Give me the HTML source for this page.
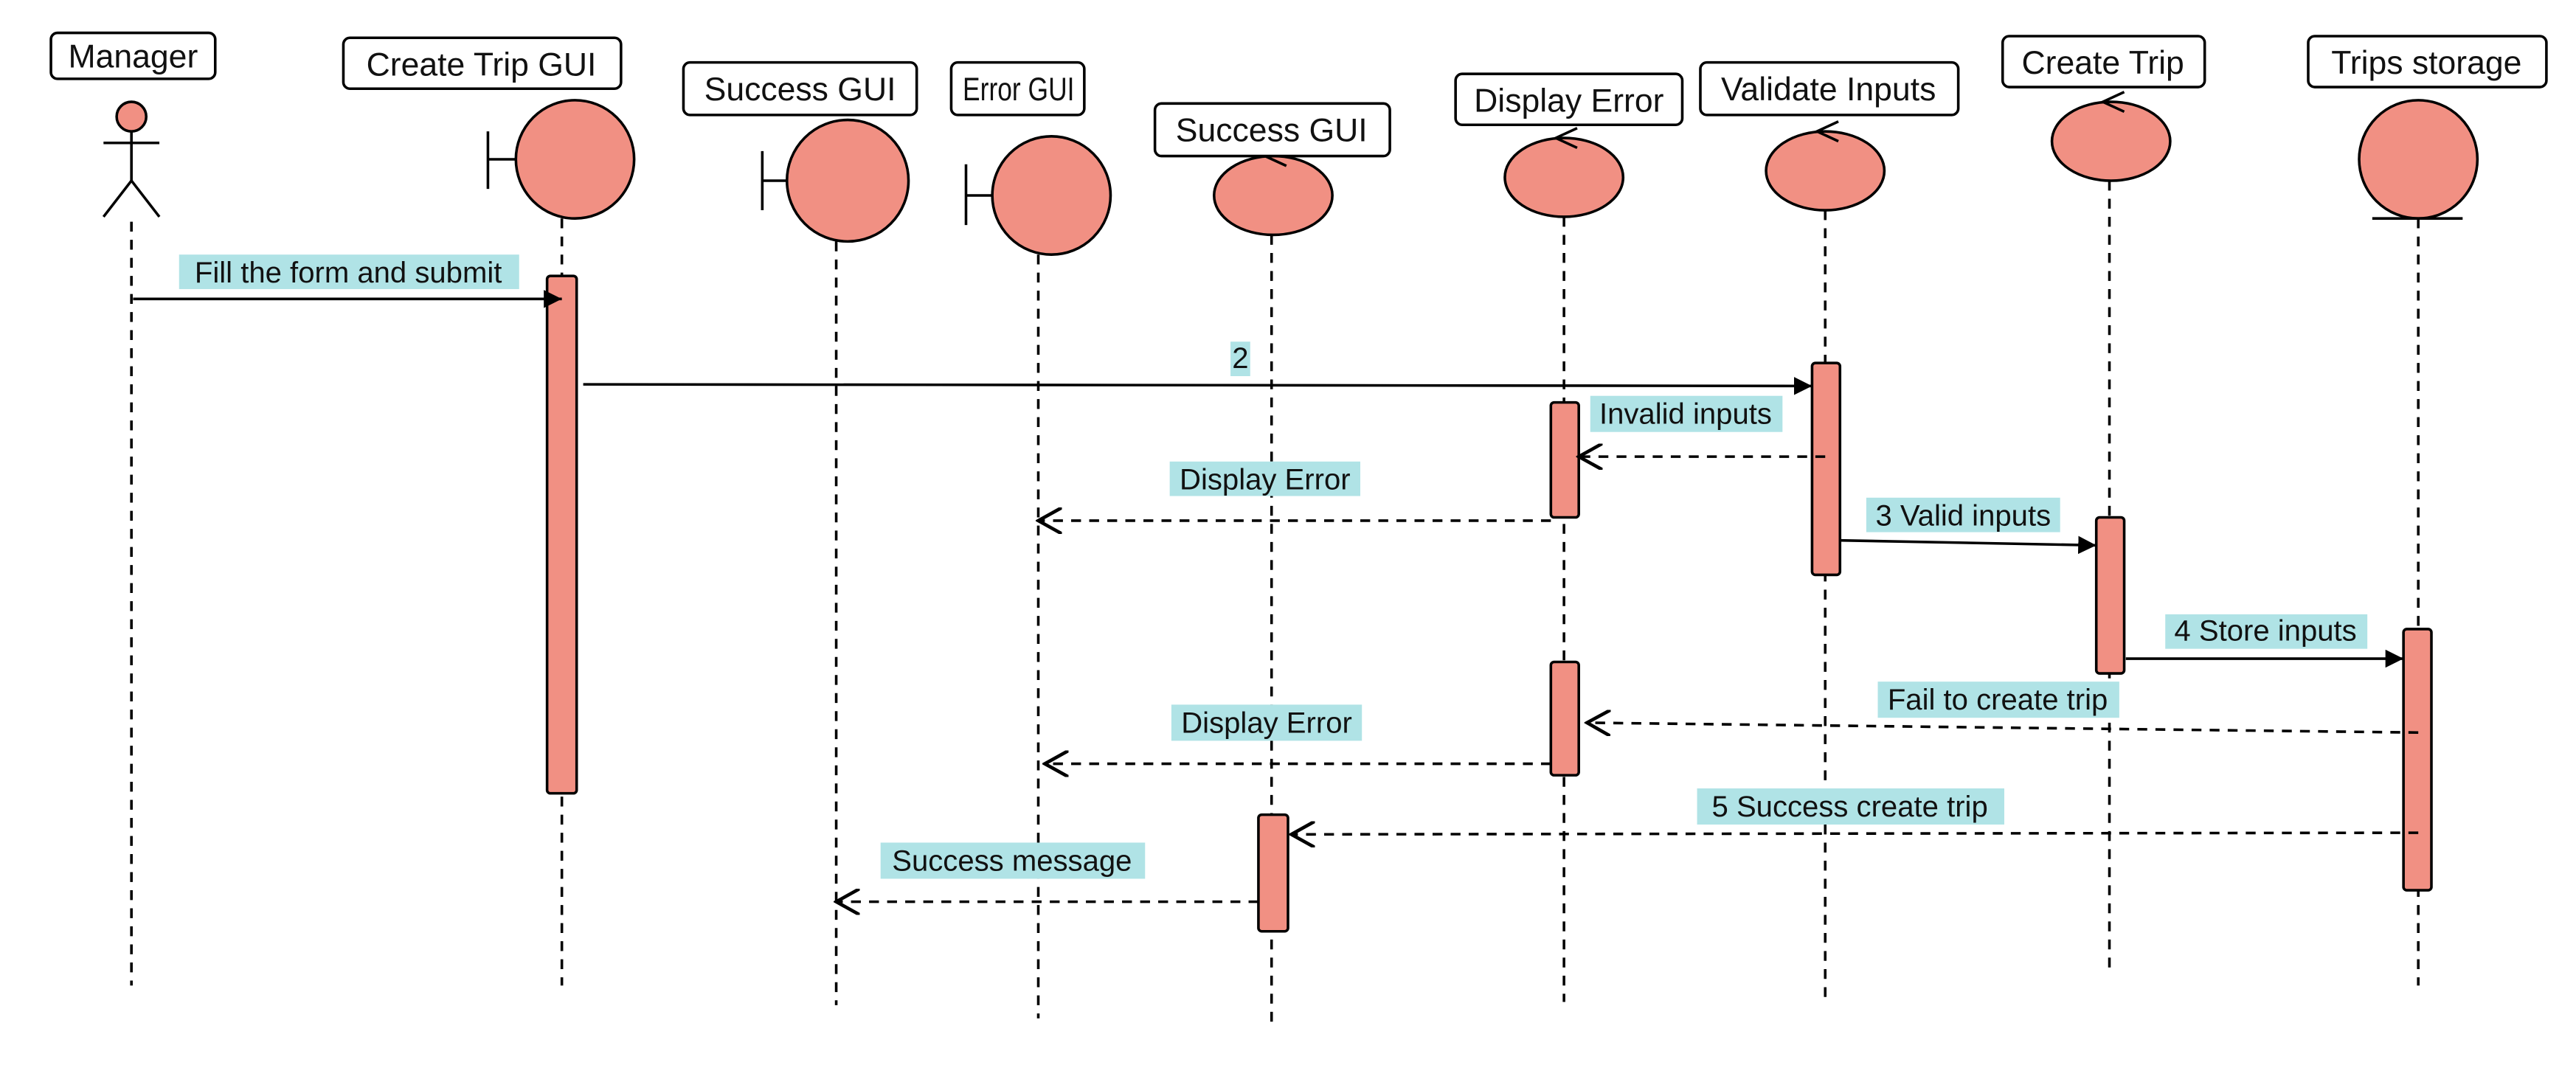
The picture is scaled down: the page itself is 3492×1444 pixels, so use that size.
<!DOCTYPE html>
<html><head><meta charset="utf-8"><style>
html,body{margin:0;padding:0;background:#fff;width:3492px;height:1444px;overflow:hidden}
svg{display:block}
text{font-family:"Liberation Sans",sans-serif;fill:#111}
</style></head><body>
<svg width="3492" height="1444" viewBox="0 0 1568 648.4" xmlns="http://www.w3.org/2000/svg">
<defs>
<marker id="f" viewBox="0 0 10 10" refX="10" refY="5" markerWidth="11" markerHeight="11" markerUnits="userSpaceOnUse" orient="auto"><path d="M0,0 L10,5 L0,10 z" fill="#000"/></marker>
<marker id="o" viewBox="0 0 10 10" refX="9" refY="5" markerWidth="16" markerHeight="16" markerUnits="userSpaceOnUse" orient="auto"><path d="M0,0 L9,5 L0,10" fill="none" stroke="#000" stroke-width="1.3"/></marker>
</defs>
<g stroke="#000" stroke-width="1.6" fill="none">
<g stroke-dasharray="6,5">
<line x1="80" y1="135" x2="80" y2="600"/>
<line x1="342" y1="133" x2="342" y2="600"/>
<line x1="509" y1="147" x2="509" y2="612"/>
<line x1="632" y1="155" x2="632" y2="620"/>
<line x1="774" y1="143" x2="774" y2="622"/>
<line x1="952" y1="132" x2="952" y2="610"/>
<line x1="1111" y1="128" x2="1111" y2="607"/>
<line x1="1284" y1="110" x2="1284" y2="590"/>
<line x1="1472" y1="133" x2="1472" y2="600"/>
</g>
<circle cx="80" cy="71" r="9" fill="#f19083"/>
<line x1="80" y1="80" x2="80" y2="110"/><line x1="63" y1="87" x2="97" y2="87"/>
<line x1="80" y1="110" x2="63" y2="132"/><line x1="80" y1="110" x2="97" y2="132"/>
<circle cx="350" cy="97" r="36" fill="#f19083"/><line x1="297" y1="80" x2="297" y2="115"/><line x1="297" y1="97" x2="314" y2="97"/>
<circle cx="516" cy="110" r="37" fill="#f19083"/><line x1="464" y1="92" x2="464" y2="128"/><line x1="464" y1="110" x2="479" y2="110"/>
<circle cx="640" cy="119" r="36" fill="#f19083"/><line x1="588" y1="100" x2="588" y2="137"/><line x1="588" y1="119" x2="604" y2="119"/>
<ellipse cx="775" cy="119" rx="36" ry="24" fill="#f19083"/><path d="M783,101 L770,95 L783,89"/>
<ellipse cx="952" cy="108" rx="36" ry="24" fill="#f19083"/><path d="M960,90 L947,84 L960,78"/>
<ellipse cx="1111" cy="104" rx="36" ry="24" fill="#f19083"/><path d="M1119,86 L1106,80 L1119,74"/>
<ellipse cx="1285" cy="86" rx="36" ry="24" fill="#f19083"/><path d="M1293,68 L1280,62 L1293,56"/>
<circle cx="1472" cy="97" r="36" fill="#f19083"/><line x1="1444" y1="133" x2="1499" y2="133"/>
<g fill="#fff">
<rect x="31" y="20" width="100" height="28" rx="4"/>
<rect x="209" y="23" width="169" height="31" rx="4"/>
<rect x="416" y="38" width="142" height="32" rx="4"/>
<rect x="579" y="38" width="81" height="32" rx="4"/>
<rect x="703" y="63" width="143" height="32" rx="4"/>
<rect x="886" y="45" width="138" height="31" rx="4"/>
<rect x="1035" y="38" width="157" height="32" rx="4"/>
<rect x="1219" y="22" width="123" height="31" rx="4"/>
<rect x="1405" y="22" width="145" height="31" rx="4"/>
</g>
<g fill="#f19083">
<rect x="333" y="168" width="18" height="315" rx="2"/>
<rect x="766" y="496" width="18" height="71" rx="2"/>
<rect x="944" y="245" width="17" height="70" rx="2"/>
<rect x="944" y="403" width="17" height="69" rx="2"/>
<rect x="1103" y="221" width="17" height="129" rx="2"/>
<rect x="1276" y="315" width="17" height="95" rx="2"/>
<rect x="1463" y="383" width="17" height="159" rx="2"/>
</g>
</g>
<g fill="#b0e3e6">
<rect x="109" y="155" width="207" height="21"/>
<rect x="749" y="208" width="12" height="21"/>
<rect x="968" y="241" width="117" height="22"/>
<rect x="712" y="281" width="116" height="21"/>
<rect x="1136" y="303" width="118" height="21"/>
<rect x="1318" y="374" width="123" height="21"/>
<rect x="1143" y="415" width="147" height="22"/>
<rect x="713" y="429" width="116" height="22"/>
<rect x="1033" y="480" width="187" height="22"/>
<rect x="536" y="513" width="161" height="22"/>
</g>
<g stroke="#000" stroke-width="1.6" fill="none">
<line x1="81" y1="182" x2="342" y2="182" marker-end="url(#f)"/>
<line x1="355" y1="234" x2="1103" y2="235" marker-end="url(#f)"/>
<line x1="1120" y1="329" x2="1276" y2="332" marker-end="url(#f)"/>
<line x1="1294" y1="401" x2="1463" y2="401" marker-end="url(#f)"/>
<g stroke-dasharray="6,5">
<line x1="1111" y1="278" x2="961" y2="278" marker-end="url(#o)"/>
<line x1="944" y1="317" x2="632" y2="317" marker-end="url(#o)"/>
<line x1="1472" y1="446" x2="966" y2="440" marker-end="url(#o)"/>
<line x1="944" y1="465" x2="636" y2="465" marker-end="url(#o)"/>
<line x1="1472" y1="507" x2="786" y2="508" marker-end="url(#o)"/>
<line x1="766" y1="549" x2="509" y2="549" marker-end="url(#o)"/>
</g>
</g>
<g font-size="20" text-anchor="middle">
<text x="81" y="41">Manager</text>
<text x="293" y="46">Create Trip GUI</text>
<text x="487" y="61">Success GUI</text>
<text x="620" y="61" textLength="68" lengthAdjust="spacingAndGlyphs">Error GUI</text>
<text x="774" y="86">Success GUI</text>
<text x="955" y="68">Display Error</text>
<text x="1113" y="61">Validate Inputs</text>
<text x="1280" y="45">Create Trip</text>
<text x="1477" y="45">Trips storage</text>
</g>
<g font-size="18" text-anchor="middle">
<text x="212" y="172">Fill the form and submit</text>
<text x="755" y="224">2</text>
<text x="1026" y="258">Invalid inputs</text>
<text x="770" y="298">Display Error</text>
<text x="1195" y="320">3 Valid inputs</text>
<text x="1379" y="390">4 Store inputs</text>
<text x="1216" y="432">Fail to create trip</text>
<text x="771" y="446">Display Error</text>
<text x="1126" y="497">5 Success create trip</text>
<text x="616" y="530">Success message</text>
</g>
</svg>
</body></html>
